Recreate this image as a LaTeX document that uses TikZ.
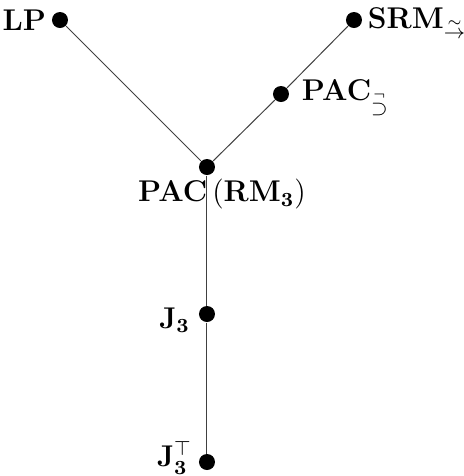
\documentclass[tikz,border=0pt]{standalone}
\usepackage{amsmath,amssymb}
\begin{document}
\begin{tikzpicture}[x=0.4pt,y=-0.4pt,
  vertex/.style={circle,fill=black,inner sep=0pt,minimum size=6.4pt},
  edge/.style={line width=0.4pt,black!75},
  lbl/.style={inner sep=1pt,font=\large}]
\useasboundingbox (0,0) rectangle (464,476);
% logics as vertices
\node[vertex] (lp)   at (60,20)  {};
\node[vertex] (srm)  at (354,20) {};
\node[vertex] (pacn) at (281,94) {};
\node[vertex] (pac)  at (207,167) {};
\node[vertex] (j3)   at (207,314) {};
\node[vertex] (j3t)  at (207,462) {};
% inclusion lines
\draw[edge] (lp) -- (pac);
\draw[edge] (srm) -- (pacn) -- (pac);
\draw[edge] (pac) -- (j3) -- (j3t);
% labels
\node[lbl,anchor=east] (llp) at (49,20) {$\mathbf{LP}$};
\node[lbl,anchor=west] (lsrm) at (365,23) {$\mathbf{SRM}_{\stackrel{\sim}{\to}}$};
\node[lbl,anchor=west] (lpacn) at (299,98) {$\mathbf{PAC}_{\stackrel{\neg}{\supset}}$};
\node[lbl,anchor=north] (lpac) at (222,176) {$\mathbf{PAC}\,(\mathbf{RM_3})$};
\node[lbl,anchor=east] (lj3) at (193,320) {$\mathbf{J_3}$};
\node[lbl,anchor=east] (lj3t) at (195,458) {$\mathbf{J}_{\mathbf{3}}^{\top}$};
\end{tikzpicture}
\end{document}
